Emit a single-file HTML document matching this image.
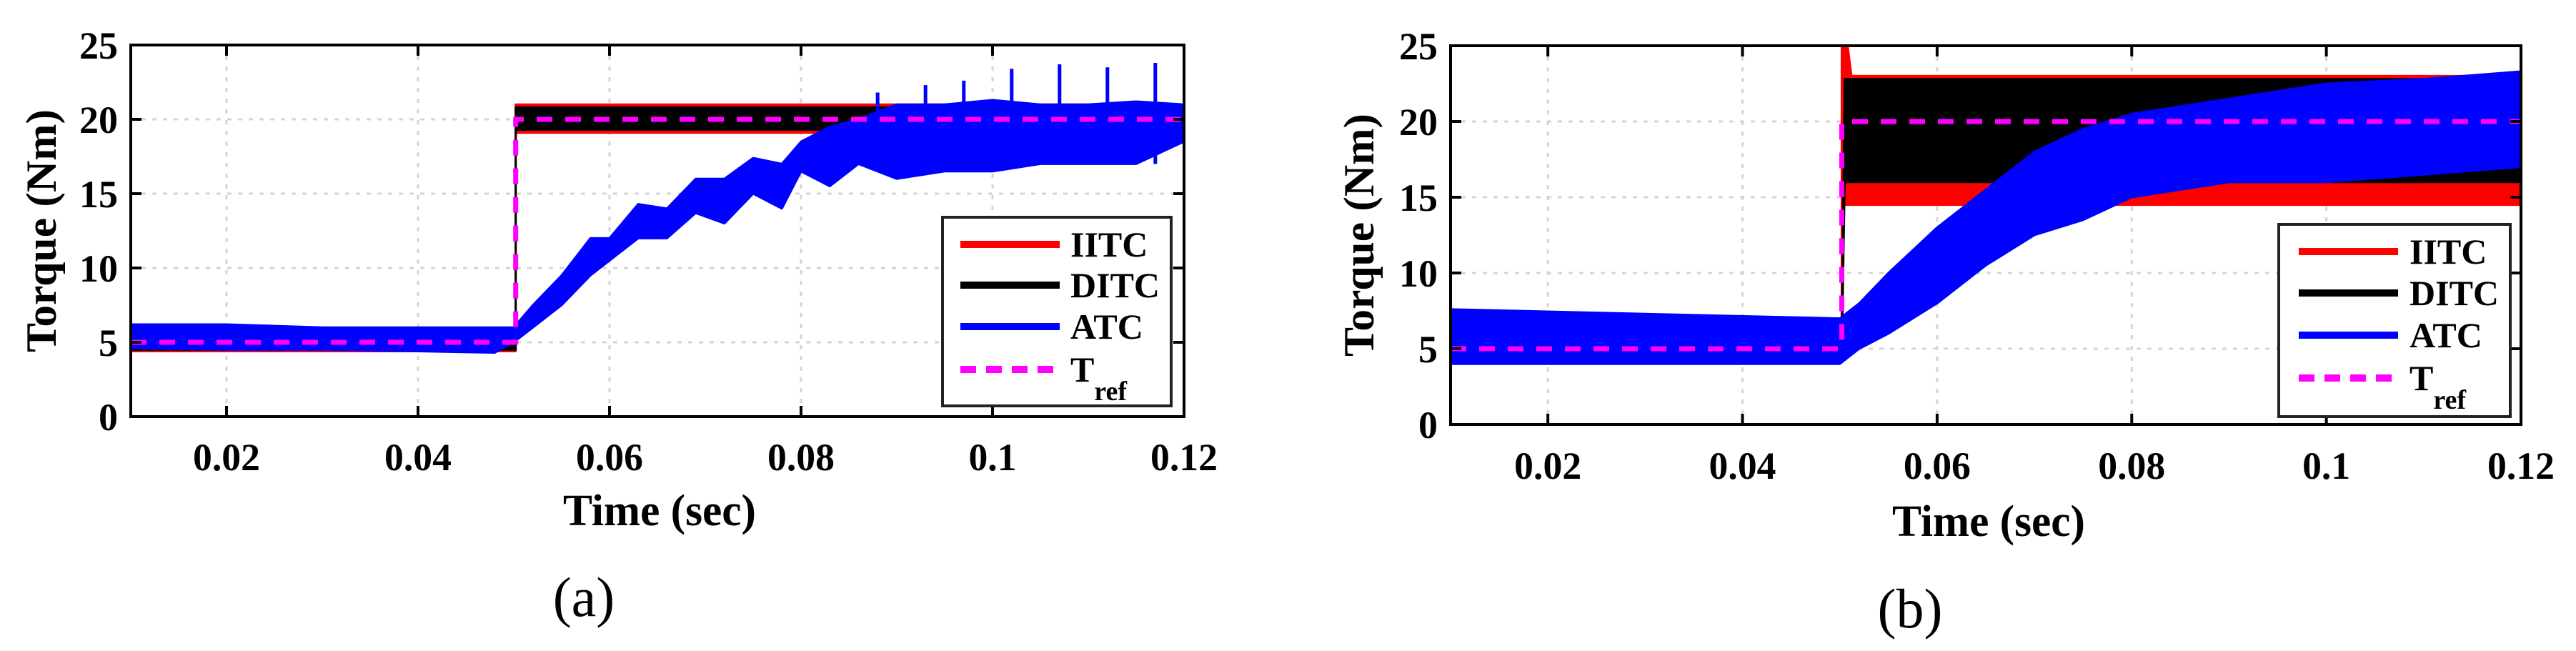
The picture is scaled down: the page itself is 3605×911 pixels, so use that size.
<!DOCTYPE html>
<html><head><meta charset="utf-8"><style>
html,body{margin:0;padding:0;background:#fff;}
svg{display:block;}
text{font-family:"Liberation Serif",serif;font-weight:bold;fill:#000;}
</style></head><body>
<svg id="chart" width="3605" height="911" viewBox="0 0 3605 911" xmlns="http://www.w3.org/2000/svg"></svg>
<script>
// ---- shared data ----
const xTicks = [0.02, 0.04, 0.06, 0.08, 0.1, 0.12];
const xTickLabels = ["0.02", "0.04", "0.06", "0.08", "0.1", "0.12"];
const yTicks = [0, 5, 10, 15, 20, 25];
const yTickLabels = ["0", "5", "10", "15", "20", "25"];
const tRefTimes = [0.01, 0.0502, 0.0502, 0.12];
const tRefValues = [5, 5, 20, 20];

// ---- panel (a) ----
const aIitcT = [0.01, 0.0502, 0.0502, 0.12];
const aIitcLo = [4.4, 4.4, 19.1, 19.1];
const aIitcHi = [5.8, 5.8, 21.0, 21.0];
const aDitcT = [0.01, 0.0502, 0.0502, 0.12];
const aDitcLo = [4.5, 4.5, 19.3, 19.3];
const aDitcHi = [5.5, 5.5, 20.8, 20.8];
const aAtcT = [0.01, 0.02, 0.03, 0.04, 0.048, 0.05, 0.052, 0.055, 0.058, 0.06, 0.063, 0.066, 0.069, 0.072, 0.075, 0.078, 0.08, 0.083, 0.086, 0.09, 0.095, 0.1, 0.105, 0.11, 0.115, 0.12];
const aAtcLo = [4.6, 4.5, 4.5, 4.4, 4.3, 5.0, 6.0, 7.5, 9.5, 10.5, 12.0, 12.0, 13.7, 13.0, 15.0, 14.0, 16.5, 15.5, 17.0, 16.0, 16.5, 16.5, 17.0, 17.0, 17.0, 18.5];
const aAtcHi = [6.2, 6.2, 6.0, 6.0, 6.0, 6.0, 7.5, 9.5, 12.0, 12.0, 14.3, 14.0, 16.0, 16.0, 17.4, 17.0, 18.5, 19.5, 20.0, 21.0, 21.0, 21.3, 21.0, 21.0, 21.2, 21.0];
const aSpikeT = [0.088, 0.093, 0.097, 0.102, 0.107, 0.112, 0.117];
const aSpikeV = [21.8, 22.3, 22.6, 23.4, 23.7, 23.5, 23.8];

// ---- panel (b) ----
const bIitcT = [0.01, 0.0502, 0.0502, 0.0508, 0.0512, 0.12];
const bIitcLo = [4.4, 4.4, 14.5, 14.5, 14.5, 14.5];
const bIitcHi = [5.5, 5.5, 25.0, 25.0, 23.0, 23.0];
const bDitcT = [0.01, 0.0502, 0.0505, 0.07, 0.08, 0.12];
const bDitcLo = [4.5, 4.5, 16.0, 16.0, 16.0, 16.0];
const bDitcHi = [5.3, 5.3, 22.8, 22.8, 22.8, 22.8];
const bAtcT = [0.01, 0.05, 0.052, 0.055, 0.06, 0.065, 0.07, 0.075, 0.08, 0.085, 0.09, 0.1, 0.11, 0.12];
const bAtcLo = [4.0, 4.0, 5.0, 6.0, 8.0, 10.5, 12.5, 13.5, 15.0, 15.5, 16.0, 16.0, 16.5, 17.0];
const bAtcHi = [7.6, 7.0, 8.0, 10.0, 13.0, 15.5, 18.0, 19.5, 20.5, 21.0, 21.5, 22.5, 22.8, 23.3];

const legendLabels = ["IITC", "DITC", "ATC", "T"];
const legendColors = ["#ff0000", "#000000", "#0000ff", "#ff00ff"];

const NS = "http://www.w3.org/2000/svg";
const svg = document.getElementById("chart");
function mk(tag, attrs, parent) {
  const e = document.createElementNS(NS, tag);
  for (const k in attrs) e.setAttribute(k, attrs[k]);
  (parent || svg).appendChild(e);
  return e;
}

function drawPanel(P, id) {
  const g = mk("g", {});
  
  
  const sx = v => P.left + (v - 0.01) / 0.11 * (P.right - P.left);
  const sy = v => P.bottom - v / 25 * (P.bottom - P.top);

  // grid
  xTicks.forEach(t => {
    const l = mk("line", {x1: sx(t), x2: sx(t), y1: P.top, y2: P.bottom, stroke: "#d4d4d4", "stroke-width": 3, "stroke-dasharray": "6 9"}, g);
    
    
  });
  yTicks.forEach(t => {
    const l = mk("line", {x1: P.left, x2: P.right, y1: sy(t), y2: sy(t), stroke: "#d4d4d4", "stroke-width": 3, "stroke-dasharray": "6 9"}, g);
    
    
  });

  function band(T, lo, hi, color, name) {
    let d = "";
    T.forEach((t, i) => { d += (i ? "L" : "M") + sx(t) + " " + sy(hi[i]) + " "; });
    for (let i = T.length - 1; i >= 0; i--) d += "L" + sx(T[i]) + " " + sy(lo[i]) + " ";
    d += "Z";
    const p = mk("path", {d: d, fill: color, stroke: color, "stroke-width": 3, "stroke-linejoin": "round"}, g);
    
    
  }
  band(P.iT, P.iLo, P.iHi, "#ff0000", "iitc-series");
  band(P.dT, P.dLo, P.dHi, "#000000", "ditc-series");
  band(P.aT, P.aLo, P.aHi, "#0000ff", "atc-series");
  if (P.spT) {
    P.spT.forEach((t, i) => {
      const l = mk("line", {x1: sx(t), x2: sx(t), y1: sy(17), y2: sy(P.spV[i]), stroke: "#0000ff", "stroke-width": 5}, g);
      
      
    });
  }
  // Tref
  let d = "";
  tRefTimes.forEach((t, i) => { d += (i ? "L" : "M") + sx(t) + " " + sy(tRefValues[i]) + " "; });
  const tr = mk("path", {d: d, fill: "none", stroke: "#ff00ff", "stroke-width": 7, "stroke-dasharray": "22 18"}, g);
  
  

  // axes box
  const box = mk("rect", {x: P.left, y: P.top, width: P.right - P.left, height: P.bottom - P.top, fill: "none", stroke: "#000", "stroke-width": 4}, g);
  
  
  // ticks
  xTicks.forEach((t, i) => {
    mk("line", {x1: sx(t), x2: sx(t), y1: P.bottom, y2: P.bottom - 15, stroke: "#000", "stroke-width": 4}, g);
    mk("line", {x1: sx(t), x2: sx(t), y1: P.top, y2: P.top + 15, stroke: "#000", "stroke-width": 4}, g);
    const w = xTickLabels[i].replace(".", "").length * 27 + 13;
    const tx = mk("text", {x: sx(t), y: P.xTickY, "font-size": 54, "text-anchor": "middle", textLength: w, lengthAdjust: "spacingAndGlyphs"}, g);
    tx.textContent = xTickLabels[i];
    
    
  });
  yTicks.forEach((t, i) => {
    mk("line", {x1: P.left, x2: P.left + 15, y1: sy(t), y2: sy(t), stroke: "#000", "stroke-width": 4}, g);
    mk("line", {x1: P.right, x2: P.right - 15, y1: sy(t), y2: sy(t), stroke: "#000", "stroke-width": 4}, g);
    const w = yTickLabels[i].length * 27;
    const tx = mk("text", {x: P.left - 18, y: sy(t) + 19, "font-size": 54, "text-anchor": "end", textLength: w, lengthAdjust: "spacingAndGlyphs"}, g);
    tx.textContent = yTickLabels[i];
    
    
  });
  // titles
  const yt = mk("text", {x: 0, y: 0, "font-size": 60, "text-anchor": "middle", textLength: 340, lengthAdjust: "spacingAndGlyphs", transform: "translate(" + P.yTitleX + "," + ((P.top + P.bottom) / 2) + ") rotate(-90)"}, g);
  yt.textContent = "Torque (Nm)";
  
  
  const xt = mk("text", {x: P.xTitleX, y: P.xTitleY, "font-size": 62, "text-anchor": "middle", textLength: 270, lengthAdjust: "spacingAndGlyphs"}, g);
  xt.textContent = "Time (sec)";
  
  
  const cap = mk("text", {x: P.capX, y: P.capY, "font-size": 78, "text-anchor": "middle", "font-weight": "normal", style: "font-weight:normal"}, g);
  cap.textContent = "(" + id + ")";
  
  

  // legend
  const L = P.leg;
  const lg = mk("g", {}, g);
  
  
  mk("rect", {x: L.x, y: L.y, width: L.w, height: L.h, fill: "#fff", stroke: "#222", "stroke-width": 4}, lg);
  legendLabels.forEach((lab, i) => {
    const yy = L.rows[i];
    const ln = mk("line", {x1: L.lx1, x2: L.lx2, y1: yy, y2: yy, stroke: legendColors[i], "stroke-width": 10, "stroke-dasharray": i === 3 ? "22 14" : "none"}, lg);
    
    
    const tx = mk("text", {x: L.tx, y: yy + 17, "font-size": 50}, lg);
    tx.textContent = lab;
    if (i === 3) {
      const s = mk("tspan", {dy: 26, "font-size": 38}, tx);
      s.textContent = "ref";
    }
    
    
  });
}

drawPanel({left: 183, right: 1657, top: 63, bottom: 583, xTickY: 658, yTitleX: 78, xTitleX: 923, xTitleY: 735, capX: 817, capY: 862,
  iT: aIitcT, iLo: aIitcLo, iHi: aIitcHi, dT: aDitcT, dLo: aDitcLo, dHi: aDitcHi, aT: aAtcT, aLo: aAtcLo, aHi: aAtcHi, spT: aSpikeT, spV: aSpikeV,
  leg: {x: 1319, y: 304, w: 320, h: 264, lx1: 1344, lx2: 1483, tx: 1498, rows: [342, 399, 457, 517]}}, "a");

drawPanel({left: 2030, right: 3528, top: 64, bottom: 594, xTickY: 670, yTitleX: 1922, xTitleX: 2783, xTitleY: 750, capX: 2673, capY: 878,
  iT: bIitcT, iLo: bIitcLo, iHi: bIitcHi, dT: bDitcT, dLo: bDitcLo, dHi: bDitcHi, aT: bAtcT, aLo: bAtcLo, aHi: bAtcHi, spT: null, spV: null,
  leg: {x: 3189, y: 314, w: 324, h: 269, lx1: 3217, lx2: 3356, tx: 3372, rows: [352, 410, 469, 529]}}, "b");
</script>
</body></html>
